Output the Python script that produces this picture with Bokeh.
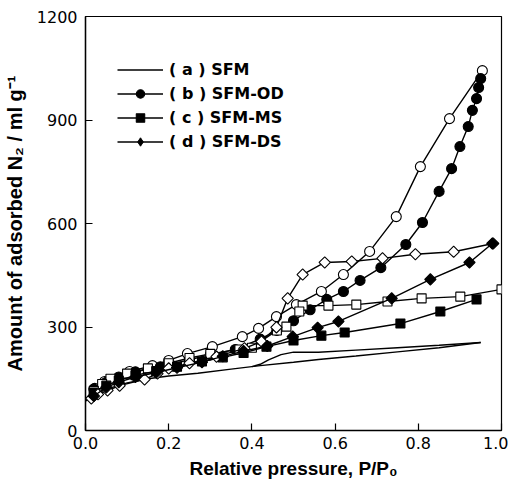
import numpy as np
from bokeh.plotting import figure
from bokeh.models import Legend, LegendItem, Range1d, FixedTicker, NumeralTickFormatter, ColumnDataSource
from bokeh.embed import file_html
from bokeh.resources import INLINE

# ---- data ----
# (a) SFM : plain line, adsorption and desorption branches
sfm_ads_x = [0.0, 0.02, 0.05, 0.10, 0.15, 0.20, 0.27, 0.35, 0.42, 0.50, 0.56, 0.65, 0.75, 0.85, 0.95]
sfm_ads_y = [85, 105, 120, 138, 150, 158, 166, 178, 188, 198, 206, 216, 228, 240, 255]
sfm_des_x = [0.95, 0.85, 0.75, 0.65, 0.56, 0.50, 0.47, 0.44, 0.42, 0.40]
sfm_des_y = [255, 247, 240, 233, 227, 227, 220, 205, 192, 185]

# (b) SFM-OD
od_ads_x = [0.02, 0.05, 0.08, 0.12, 0.18, 0.25, 0.30, 0.36, 0.42, 0.46, 0.50, 0.54, 0.58, 0.62,
            0.66, 0.71, 0.77, 0.81, 0.85, 0.88, 0.90, 0.92, 0.93, 0.94, 0.945, 0.95]
od_ads_y = [120, 140, 155, 170, 185, 205, 220, 235, 265, 290, 318, 350, 380, 403,
            435, 472, 539, 603, 693, 759, 823, 881, 928, 962, 994, 1020]
od_des_x = [0.954, 0.875, 0.805, 0.747, 0.683, 0.620, 0.567, 0.507, 0.459, 0.416, 0.377, 0.305,
            0.245, 0.200, 0.161, 0.106, 0.046, 0.022]
od_des_y = [1043, 904, 765, 620, 519, 452, 403, 365, 330, 296, 272, 243,
            223, 203, 188, 171, 142, 122]

# (c) SFM-MS
ms_ads_x = [0.02, 0.05, 0.08, 0.12, 0.17, 0.22, 0.28, 0.33, 0.38, 0.435, 0.50, 0.567, 0.623, 0.757, 0.853, 0.940]
ms_ads_y = [110, 130, 145, 160, 172, 185, 200, 212, 225, 243, 261, 275, 284, 310, 345, 380]
ms_des_x = [1.0, 0.901, 0.808, 0.726, 0.651, 0.584, 0.522, 0.514, 0.483, 0.46, 0.40, 0.37, 0.30,
            0.25, 0.20, 0.15, 0.10, 0.06, 0.04, 0.02]
ms_des_y = [409, 388, 383, 374, 365, 362, 362, 345, 301, 290, 240, 235, 222,
            210, 195, 180, 165, 150, 135, 115]

# (d) SFM-DS
ds_ads_x = [0.02, 0.05, 0.08, 0.12, 0.17, 0.22, 0.28, 0.33, 0.38, 0.437, 0.498, 0.558, 0.608, 0.736, 0.829, 0.923, 0.978]
ds_ads_y = [100, 125, 140, 155, 168, 182, 198, 215, 230, 245, 272, 298, 316, 383, 438, 487, 542]
ds_des_x = [0.98, 0.885, 0.793, 0.714, 0.64, 0.575, 0.522, 0.486, 0.459, 0.423, 0.382, 0.315,
            0.25, 0.20, 0.173, 0.142, 0.082, 0.053, 0.03, 0.014]
ds_des_y = [542, 518, 511, 499, 490, 487, 452, 383, 299, 258, 238, 214,
            195, 180, 165, 148, 130, 116, 105, 93]

x_ticks = [0.0, 0.2, 0.4, 0.6, 0.8, 1.0]
y_ticks = [0, 300, 600, 900, 1200]
labels = ["( a ) SFM", "( b ) SFM-OD", "( c ) SFM-MS", "( d ) SFM-DS"]

FONT = "DejaVu Sans"
LFONT = "Liberation Sans"

p = figure(frame_width=416, frame_height=414, output_backend="svg", toolbar_location=None,
           x_range=Range1d(0, 1.0), y_range=Range1d(0, 1200),
           min_border_left=84, min_border_right=7, min_border_top=16, min_border_bottom=52)
p.grid.visible = False
p.outline_line_color = "black"
p.outline_line_width = 1.2
p.background_fill_color = "white"
p.border_fill_color = "white"

LW = 1.4
# (a)
ra = p.line(sfm_ads_x, sfm_ads_y, line_color="black", line_width=LW)
p.line(sfm_des_x, sfm_des_y, line_color="black", line_width=LW)

def series(ax, ay, dx, dy, marker, size, angle=0.0):
    p.line(dx, dy, line_color="black", line_width=LW)
    p.scatter(dx, dy, marker=marker, size=size, angle=angle, fill_color="white",
              line_color="black", line_width=1.1)
    src = ColumnDataSource(dict(x=ax, y=ay))
    l = p.line("x", "y", source=src, line_color="black", line_width=LW)
    s = p.scatter("x", "y", source=src, marker=marker, size=size, angle=angle, fill_color="black",
                  line_color="black", line_width=1.1)
    return src, l, s

src_b, lb, sb = series(od_ads_x, od_ads_y, od_des_x, od_des_y, "circle", 10)
src_c, lc, sc = series(ms_ads_x, ms_ads_y, ms_des_x, ms_des_y, "square", 9)
src_d, ld, sd = series(ds_ads_x, ds_ads_y, ds_des_x, ds_des_y, "square", 8, np.pi / 4)

# legend-only diamond marker: zero size on the plot, legend draws its own size
leg_d = p.scatter("x", "y", source=src_d, marker="diamond", size=0,
                  fill_color="black", line_color="black")

legend = Legend(items=[
    LegendItem(label=labels[0], renderers=[ra]),
    LegendItem(label=labels[1], renderers=[lb, sb]),
    LegendItem(label=labels[2], renderers=[lc, sc]),
    LegendItem(label=labels[3], renderers=[ld, leg_d]),
], location=(32, 278))
legend.border_line_color = None
legend.background_fill_alpha = 0
legend.padding = 0
legend.margin = 0
legend.spacing = 3
legend.glyph_width = 46
legend.glyph_height = 21
legend.label_height = 21
legend.label_standoff = 6
legend.label_text_font = FONT
legend.label_text_font_style = "bold"
legend.label_text_font_size = "16px"
legend.label_text_color = "black"
p.add_layout(legend)

for ax in (p.xaxis[0], p.yaxis[0]):
    ax.axis_line_width = 1.4
    ax.major_tick_in = 7
    ax.major_tick_out = 0
    ax.minor_tick_in = 0
    ax.minor_tick_out = 0
    ax.major_tick_line_width = 1.2
    ax.major_label_text_font = FONT
    ax.major_label_text_font_size = "16px"
    ax.major_label_text_color = "black"
    ax.axis_label_text_font = LFONT
    ax.axis_label_text_font_style = "bold"
    ax.axis_label_text_color = "black"

p.xaxis.axis_label_text_font_size = "19px"
p.yaxis.axis_label_text_font_size = "20px"
p.xaxis.ticker = FixedTicker(ticks=x_ticks)
p.yaxis.ticker = FixedTicker(ticks=y_ticks)
p.xaxis.formatter = NumeralTickFormatter(format="0.0")
p.yaxis.formatter = NumeralTickFormatter(format="0")
p.xaxis.axis_label = "Relative pressure, P/P\u2080"
p.yaxis.axis_label = "Amount of adsorbed N\u2082 / ml g\u207b\u00b9"
p.xaxis.major_label_standoff = 6
p.yaxis.major_label_standoff = 8
p.xaxis.axis_label_standoff = 6
p.yaxis.axis_label_standoff = 8

open("out.html", "w").write(file_html(p, INLINE))
